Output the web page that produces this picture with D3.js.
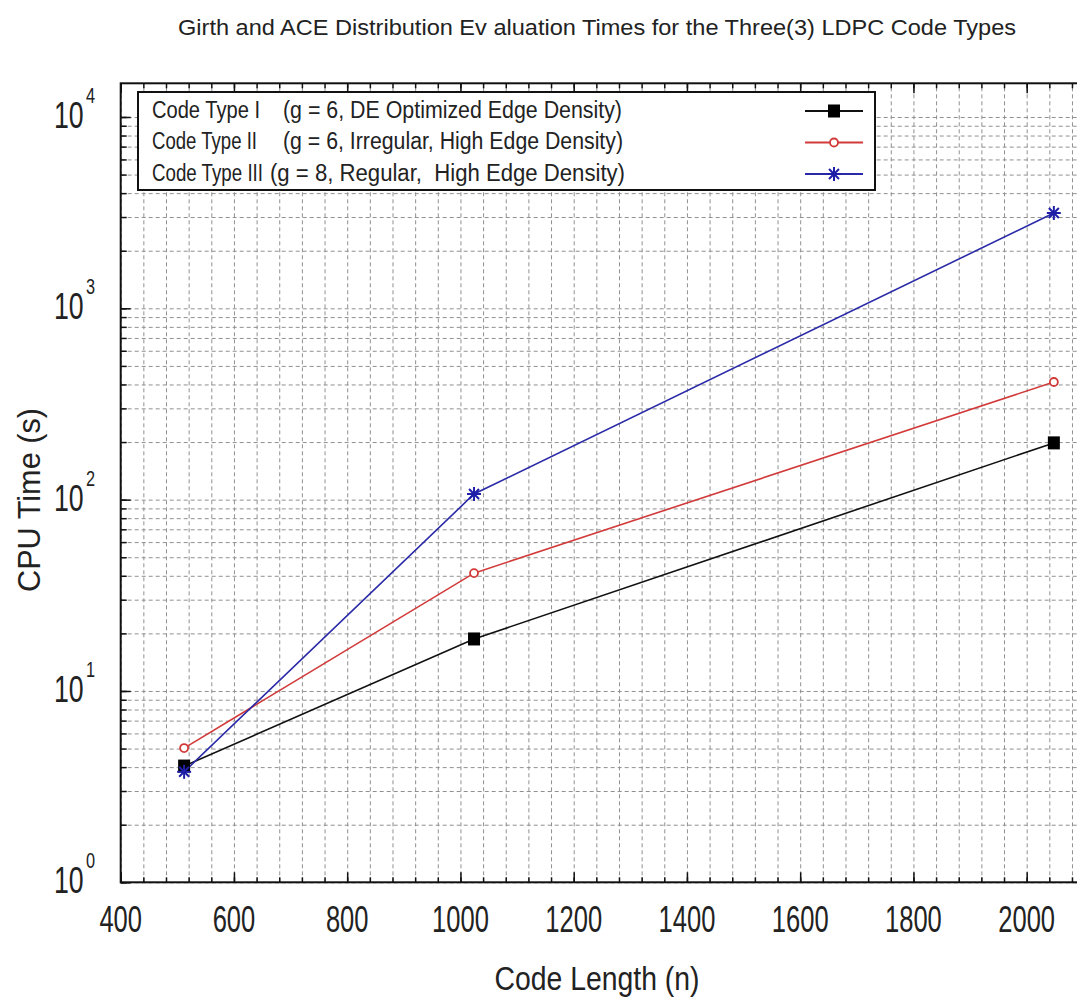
<!DOCTYPE html>
<html>
<head>
<meta charset="utf-8">
<script src="https://cdn.jsdelivr.net/npm/d3@7"></script>
<style>
  body { margin: 0; background: #fff; }
  text { font-family: "Liberation Sans Narrow", "Arial Narrow", "Liberation Sans", Arial, sans-serif; fill: #222; }
</style>
</head>
<body>
<div id="chart"></div>
<script>
// data
const codeLengths = [512, 1024, 2048];
const typeI = [4.05, 18.7, 198];
const typeII = [5.03, 41.3, 412];
const typeIII = [3.78, 107, 3150];

const seriesNames = ['Code Type I', 'Code Type II', 'Code Type III'];
const seriesDesc = [
  '(g = 6, DE Optimized Edge Density)',
  '(g = 6, Irregular, High Edge Density)',
  '(g = 8, Regular,  High Edge Density)'
];
const xTicks = [400, 600, 800, 1000, 1200, 1400, 1600, 1800, 2000];
const yTicks = [1, 10, 100, 1000, 10000];
const yExps = ['0', '1', '2', '3', '4'];

const W = 1077, H = 1002;
const pLeft = 120.7, pRight = 1083.3, pTop = 83.3, pBottom = 882.3;

const x = d3.scaleLinear().domain([400, 2100]).range([pLeft, pRight]);
const y = d3.scaleLog().domain([1, 15000]).range([pBottom, pTop]);

const xMinor = d3.range(400, 2101, 40);
const yMinor = [];
for (let k = 0; k <= 4; k++) {
  for (let m = 1; m <= 9; m++) {
    if (m * Math.pow(10, k) <= 15000) yMinor.push(m * Math.pow(10, k));
  }
}

const svg = d3.select('#chart').append('svg')
  .attr('width', W).attr('height', H);

// grid
const gridX = svg.append('g')
  .attr('transform', `translate(0,${pBottom})`)
  .call(d3.axisBottom(x).tickValues(xMinor).tickSize(-(pBottom - pTop)).tickFormat(''));
const gridY = svg.append('g')
  .attr('transform', `translate(${pLeft},0)`)
  .call(d3.axisLeft(y).tickValues(yMinor).tickSize(-(pRight - pLeft)).tickFormat(''));
[gridX, gridY].forEach(g => {
  g.select('.domain').remove();
  g.selectAll('line').attr('stroke', '#909090').attr('stroke-width', 1).attr('stroke-dasharray', '4,3');
});

// ticks on all four sides, pointing inwards
function ticks(axis, transform) {
  const g = svg.append('g').attr('transform', transform).call(axis);
  g.select('.domain').remove();
  g.selectAll('line').attr('stroke', '#111').attr('stroke-width', 1.5);
  return g;
}
ticks(d3.axisBottom(x).tickValues(xMinor).tickSize(-5).tickFormat(''), `translate(0,${pBottom})`);
ticks(d3.axisBottom(x).tickValues(xTicks).tickSize(-10).tickFormat(''), `translate(0,${pBottom})`);
ticks(d3.axisTop(x).tickValues(xMinor).tickSize(-5).tickFormat(''), `translate(0,${pTop})`);
ticks(d3.axisTop(x).tickValues(xTicks).tickSize(-10).tickFormat(''), `translate(0,${pTop})`);
ticks(d3.axisLeft(y).tickValues(yMinor).tickSize(-6).tickFormat(''), `translate(${pLeft},0)`);
ticks(d3.axisLeft(y).tickValues(yTicks).tickSize(-10).tickFormat(''), `translate(${pLeft},0)`);
ticks(d3.axisRight(y).tickValues(yMinor).tickSize(-6).tickFormat(''), `translate(${pRight},0)`);

// frame
svg.append('rect')
  .attr('x', pLeft).attr('y', pTop)
  .attr('width', pRight - pLeft).attr('height', pBottom - pTop)
  .attr('fill', 'none').attr('stroke', '#111').attr('stroke-width', 2);

// x tick labels
svg.append('g').selectAll('text').data(xTicks).enter().append('text')
  .attr('x', d => x(d)).attr('y', 932)
  .attr('text-anchor', 'middle')
  .attr('font-size', 36)
  .attr('textLength', d => String(d).length * 14.2)
  .attr('lengthAdjust', 'spacingAndGlyphs')
  .text(d => d);

// y tick labels 10^k, base and exponent in one text
const yl = svg.append('g').selectAll('text').data(yTicks).enter().append('text')
  .attr('x', 54).attr('y', d => y(d) + 11)
  .attr('font-size', 36)
  .attr('textLength', 41)
  .attr('lengthAdjust', 'spacingAndGlyphs');
yl.append('tspan').text('10');
yl.append('tspan')
  .attr('dx', 3).attr('dy', -25)
  .attr('font-size', 22)
  .text((d, i) => yExps[i]);

// axis titles
svg.append('text')
  .attr('x', 597).attr('y', 990)
  .attr('text-anchor', 'middle')
  .attr('font-size', 33)
  .attr('textLength', 205)
  .attr('lengthAdjust', 'spacingAndGlyphs')
  .text('Code Length (n)');
svg.append('text')
  .attr('transform', 'translate(40,500) rotate(-90)')
  .attr('text-anchor', 'middle')
  .attr('font-size', 31)
  .attr('textLength', 184)
  .attr('lengthAdjust', 'spacingAndGlyphs')
  .text('CPU Time (s)');

// title
svg.append('text')
  .attr('x', 178).attr('y', 35)
  .attr('font-size', 22)
  .attr('textLength', 838)
  .attr('lengthAdjust', 'spacingAndGlyphs')
  .text('Girth and ACE Distribution Ev aluation Times for the Three(3) LDPC Code Types');

// markers
function square(g, cx, cy) {
  g.append('rect').attr('x', cx - 6).attr('y', cy - 6.5)
    .attr('width', 12).attr('height', 13).attr('fill', '#000');
}
function circle(g, cx, cy) {
  g.append('circle').attr('cx', cx).attr('cy', cy).attr('r', 4)
    .attr('fill', '#fff').attr('stroke', '#d23a3a').attr('stroke-width', 1.8);
}
function star(g, cx, cy) {
  const s = 7, c = '#1f1fa8';
  [[0, -s, 0, s], [-s, 0, s, 0], [-5, -5, 5, 5], [-5, 5, 5, -5]].forEach(p => {
    g.append('line')
      .attr('x1', cx + p[0]).attr('y1', cy + p[1])
      .attr('x2', cx + p[2]).attr('y2', cy + p[3])
      .attr('stroke', c).attr('stroke-width', 2);
  });
}

const series = [
  { values: typeI, color: '#111', marker: square },
  { values: typeII, color: '#d23a3a', marker: circle },
  { values: typeIII, color: '#2a2aa8', marker: star }
];

const line = d3.line().x(d => x(d[0])).y(d => y(d[1]));
series.forEach(s => {
  const pts = codeLengths.map((n, i) => [n, s.values[i]]);
  svg.append('path').datum(pts)
    .attr('d', line)
    .attr('fill', 'none')
    .attr('stroke', s.color)
    .attr('stroke-width', 1.6);
});
series.forEach(s => {
  const g = svg.append('g');
  codeLengths.forEach((n, i) => s.marker(g, x(n), y(s.values[i])));
});

// legend
const lg = svg.append('g');
lg.append('rect')
  .attr('x', 138).attr('y', 92)
  .attr('width', 737).attr('height', 98)
  .attr('fill', '#fff').attr('stroke', '#111').attr('stroke-width', 2);
const rowY = [111, 142.5, 174];
const nameW = [108, 105, 111];
const descX = [283, 283, 270];
const descW = [339, 340, 355];
series.forEach((s, i) => {
  lg.append('text')
    .attr('x', 152).attr('y', rowY[i] + 6.5)
    .attr('font-size', 23)
    .attr('textLength', nameW[i])
    .attr('lengthAdjust', 'spacingAndGlyphs')
    .text(seriesNames[i]);
  lg.append('text')
    .attr('x', descX[i]).attr('y', rowY[i] + 6.5)
    .attr('font-size', 23)
    .attr('textLength', descW[i])
    .attr('lengthAdjust', 'spacingAndGlyphs')
    .style('white-space', 'pre')
    .text(seriesDesc[i]);
  lg.append('line')
    .attr('x1', 805).attr('x2', 863)
    .attr('y1', rowY[i]).attr('y2', rowY[i])
    .attr('stroke', s.color).attr('stroke-width', 1.8);
  s.marker(lg, 834, rowY[i]);
});
</script>
</body>
</html>
